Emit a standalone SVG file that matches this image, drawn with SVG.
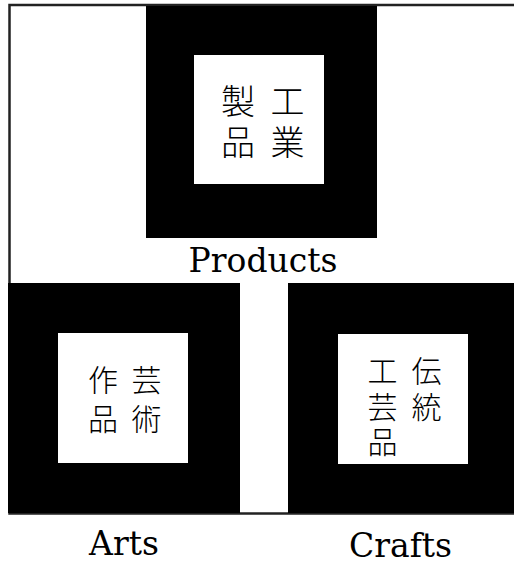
<svg xmlns="http://www.w3.org/2000/svg" width="514" height="566" viewBox="0 0 514 566">
<style>
.frame{fill:#fff;stroke:#222;stroke-width:2.5}
.outer{fill:#000}
.inner{fill:#fff}
.cjk{font-family:"Noto Sans CJK JP","Noto Sans CJK SC",sans-serif;font-weight:300;fill:#000;writing-mode:vertical-rl;text-anchor:start}
.big{font-size:34px}
.small{font-size:30px}
.label{font-family:"DejaVu Serif","Liberation Serif",serif;font-size:33px;fill:#000;text-anchor:middle}
</style>
<rect width="514" height="566" fill="#fff"/>
<rect id="frame" class="frame" x="9.5" y="5" width="520" height="508.5"/>
<g id="products">
<rect class="outer" x="146" y="6" width="231" height="232"/>
<rect class="inner" x="194" y="55" width="130" height="129"/>
<text class="cjk big" x="287.5" y="83.8">工</text>
<text class="cjk big" x="287.5" y="125.3">業</text>
<text class="cjk big" x="238" y="83.8">製</text>
<text class="cjk big" x="238" y="125.3">品</text>
<text class="label" x="263" y="272">Products</text>
</g>
<g id="arts">
<rect class="outer" x="8" y="283" width="232" height="230"/>
<rect class="inner" x="58" y="333" width="130" height="130"/>
<text class="cjk small" x="146.5" y="364.5">芸</text>
<text class="cjk small" x="146.5" y="404">術</text>
<text class="cjk small" x="103" y="364.5">作</text>
<text class="cjk small" x="103" y="404">品</text>
<text class="label" x="124" y="555">Arts</text>
</g>
<g id="crafts">
<rect class="outer" x="288" y="283" width="232" height="230"/>
<rect class="inner" x="338" y="334" width="130" height="130"/>
<text class="cjk small" x="426.5" y="355.5">伝</text>
<text class="cjk small" x="426.5" y="391.25">統</text>
<text class="cjk small" x="382.5" y="355.5">工</text>
<text class="cjk small" x="382.5" y="391.25">芸</text>
<text class="cjk small" x="382.5" y="427">品</text>
<text class="label" x="400.5" y="557">Crafts</text>
</g>
</svg>
